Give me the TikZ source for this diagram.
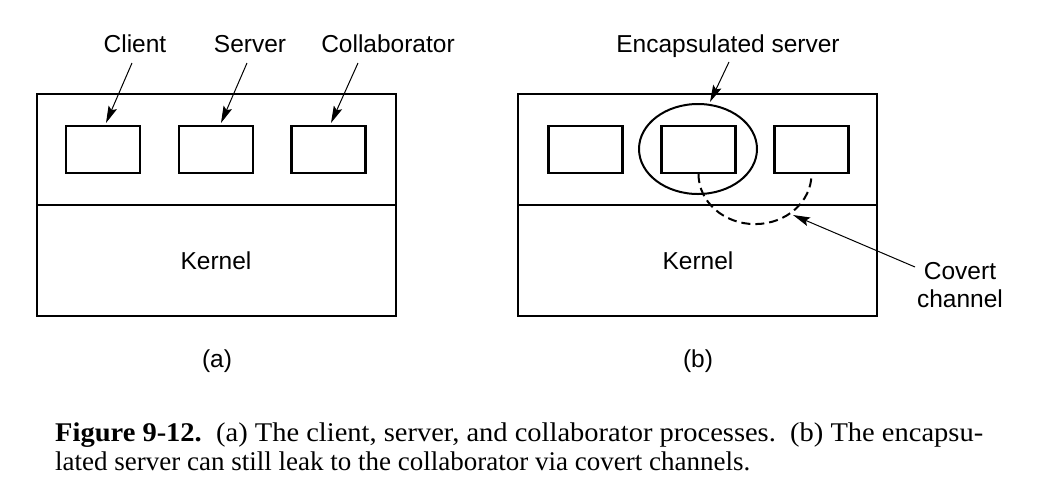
\documentclass[tikz,border=0pt]{standalone}
\usepackage{fontspec}
\setmainfont{Liberation Serif}
\newfontfamily\lsans{Liberation Sans}
\usetikzlibrary{arrows.meta,shapes.geometric}
\begin{document}
\begin{tikzpicture}[x=1pt,y=-1pt,
  lbl/.style={font=\lsans\fontsize{24.5}{28}\selectfont, inner sep=0pt, anchor=base},
  frame/.style={draw, line width=2pt, minimum width=359pt, inner sep=0pt},
  proc/.style={draw, line width=2.2pt, minimum width=74pt, minimum height=47pt, inner sep=0pt},
  ptr/.style={line width=1pt, -{Stealth[length=17pt,width=9pt,inset=3pt]}},
  covert/.style={line width=2pt, dash pattern=on 9pt off 5pt},
  capt/.style={anchor=base west, inner sep=0pt, font=\fontsize{27}{29}\selectfont}
]
\useasboundingbox (0,0) rectangle (1039,496);
% (a)
\node[frame, minimum height=111pt] (ua) at (216.5,149.5) {};
\node[frame, minimum height=111pt] (ka) at (216.5,260.5) {};
\node[lbl] at (216,269) {Kernel};
\node[proc] (c1) at (103,149.5) {};
\node[proc] (s1) at (216,149.5) {};
\node[proc] (k1) at (328.5,149.5) {};
\node[lbl] (lc) at (135,52) {Client};
\node[lbl] (ls) at (250,52) {Server};
\node[lbl] (lk) at (388,52) {Collaborator};
\coordinate (lcs) at (132,63);
\coordinate (lss) at (247,63);
\coordinate (lks) at (358,63);
\coordinate (c1e) at (106,123);
\coordinate (s1e) at (221,123);
\coordinate (k1e) at (331,123);
\draw[ptr] (lcs) -- (c1e);
\draw[ptr] (lss) -- (s1e);
\draw[ptr] (lks) -- (k1e);
\node[lbl] (cap1) at (217,367) {(a)};
% (b)
\node[frame, minimum height=111pt] (ub) at (697.5,149.5) {};
\node[frame, minimum height=111pt] (kb) at (697.5,260.5) {};
\node[lbl] at (698,269) {Kernel};
\node[proc] (c2) at (585.5,149.5) {};
\node[proc] (s2) at (698.5,149.5) {};
\node[proc] (k2) at (811.5,149.5) {};
\node[draw, ellipse, line width=2pt, minimum width=118pt, minimum height=90pt, inner sep=0pt] (enc) at (698,149) {};
\node[lbl] (le) at (728,52) {Encapsulated server};
\coordinate (les) at (729,62);
\coordinate (ence) at (710,102);
\draw[ptr] (les) -- (ence);
\draw[covert] (s2.south) arc[start angle=180, end angle=360, x radius=56.5pt, y radius=50pt];
\node[lbl] (lcc1) at (960,279) {Covert};
\node[lbl] (lcc2) at (960,307) {channel};
\coordinate (lccs) at (915,267);
\coordinate (cce) at (793,215);
\draw[ptr] (lccs) -- (cce);
\node[lbl] (cap2) at (698,367) {(b)};
% caption
\node[capt] (fig1) at (55,441) {\resizebox{928pt}{\height}{\textbf{Figure 9-12.}\ \ (a) The client, server, and collaborator processes.\ \ (b) The encapsu-}};
\node[capt] (fig2) at (55,470) {lated server can still leak to the collaborator via covert channels.};
\end{tikzpicture}
\end{document}
